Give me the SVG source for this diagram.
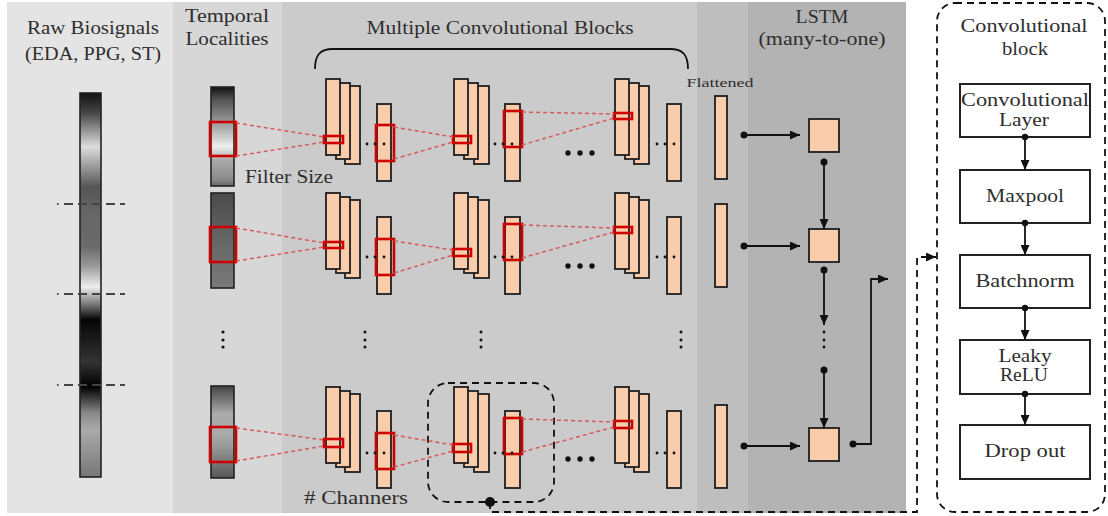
<svg xmlns="http://www.w3.org/2000/svg" width="1108" height="516" viewBox="0 0 1108 516">
<defs>
<style>
.t{font-family:"Liberation Serif","Times New Roman",serif;fill:#2e2e2e;text-anchor:middle}
.h{font-size:19px}
.b{font-size:18px}
.peach{fill:#f9cdab;stroke:#1e1e1e;stroke-width:1.8}
.red{fill:none;stroke:#cc0000;stroke-width:2.6}
.rd{fill:none;stroke:#d65a5a;stroke-width:1.5;stroke-dasharray:4 3}
.ln{fill:none;stroke:#111;stroke-width:1.8}
.box{fill:#fff;stroke:#222;stroke-width:2}
.dot{fill:#111}
.gbar{stroke:#222;stroke-width:1.6}
.dash{fill:none;stroke:#111;stroke-width:1.8;stroke-dasharray:7 5}
</style>
<marker id="ah" viewBox="0 0 10 9" markerWidth="10" markerHeight="9" refX="10" refY="4.5" orient="auto" markerUnits="userSpaceOnUse">
<path d="M0,0 L10,4.5 L0,9 z" fill="#111"/>
</marker>
<linearGradient id="gRaw" x1="0" y1="0" x2="0" y2="1">
<stop offset="0" stop-color="#111"/>
<stop offset="0.05" stop-color="#444"/>
<stop offset="0.14" stop-color="#ddd"/>
<stop offset="0.18" stop-color="#aaa"/>
<stop offset="0.245" stop-color="#555"/>
<stop offset="0.31" stop-color="#666"/>
<stop offset="0.40" stop-color="#6a6a6a"/>
<stop offset="0.45" stop-color="#999"/>
<stop offset="0.505" stop-color="#eee"/>
<stop offset="0.557" stop-color="#666"/>
<stop offset="0.59" stop-color="#050505"/>
<stop offset="0.66" stop-color="#222"/>
<stop offset="0.70" stop-color="#333"/>
<stop offset="0.765" stop-color="#000"/>
<stop offset="0.833" stop-color="#888"/>
<stop offset="0.878" stop-color="#aaa"/>
<stop offset="1" stop-color="#777"/>
</linearGradient>
<linearGradient id="gT1" x1="0" y1="0" x2="0" y2="1">
<stop offset="0" stop-color="#111"/>
<stop offset="0.13" stop-color="#555"/>
<stop offset="0.36" stop-color="#999"/>
<stop offset="0.6" stop-color="#eee"/>
<stop offset="0.74" stop-color="#aaa"/>
<stop offset="0.94" stop-color="#888"/>
<stop offset="1" stop-color="#666"/>
</linearGradient>
<linearGradient id="gT2" x1="0" y1="0" x2="0" y2="1">
<stop offset="0" stop-color="#4a4a4a"/>
<stop offset="0.5" stop-color="#666"/>
<stop offset="1" stop-color="#7a7a7a"/>
</linearGradient>
<linearGradient id="gT3" x1="0" y1="0" x2="0" y2="1">
<stop offset="0" stop-color="#444"/>
<stop offset="0.3" stop-color="#aaa"/>
<stop offset="0.51" stop-color="#aaa"/>
<stop offset="0.66" stop-color="#999"/>
<stop offset="0.84" stop-color="#777"/>
<stop offset="1" stop-color="#555"/>
</linearGradient>
</defs>

<g id="background">
<rect x="7" y="2" width="166" height="511" fill="#e4e4e4"/>
<rect x="173" y="2" width="109" height="511" fill="#d7d7d7"/>
<rect x="282" y="2" width="415" height="511" fill="#cbcbcb"/>
<rect x="697" y="2" width="51" height="511" fill="#bebebe"/>
<rect x="748" y="2" width="158" height="511" fill="#b3b3b3"/>
</g>

<g id="labels">
<text class="t h" x="93" y="34" textLength="132" lengthAdjust="spacingAndGlyphs">Raw Biosignals</text>
<text class="t h" x="93" y="60" textLength="136" lengthAdjust="spacingAndGlyphs">(EDA, PPG, ST)</text>
<text class="t h" x="227" y="22" textLength="84" lengthAdjust="spacingAndGlyphs">Temporal</text>
<text class="t h" x="227" y="45" textLength="83" lengthAdjust="spacingAndGlyphs">Localities</text>
<text class="t h" x="500" y="34" textLength="267" lengthAdjust="spacingAndGlyphs">Multiple Convolutional Blocks</text>
<text class="t h" x="822" y="23" textLength="53" lengthAdjust="spacingAndGlyphs">LSTM</text>
<text class="t h" x="822" y="45" textLength="127" lengthAdjust="spacingAndGlyphs">(many-to-one)</text>
<text class="t" x="720" y="87" font-size="13" textLength="67" lengthAdjust="spacingAndGlyphs">Flattened</text>
<text class="t" x="289" y="183" font-size="18" textLength="88" lengthAdjust="spacingAndGlyphs">Filter Size</text>
<text class="t" x="356" y="504" font-size="18" textLength="104" lengthAdjust="spacingAndGlyphs"># Channers</text>
<path class="ln" d="M315,69 C315,55 320,49 333,49 L670,49 C683,49 688,55 688,69" stroke-width="2.4"/>
</g>

<g id="raw-biosignals">
<rect class="gbar" x="80" y="93" width="21" height="384" fill="url(#gRaw)"/>
<g stroke="#444" stroke-width="2" stroke-dasharray="1.5 5.5 9 5 9 5 9 5 9 5 9">
<line x1="57" y1="204" x2="125" y2="204"/>
<line x1="57" y1="294" x2="125" y2="294"/>
<line x1="57" y1="385" x2="125" y2="385"/>
</g>
</g>

<g id="temporal-localities">
<rect class="gbar" x="211" y="87" width="23" height="99" fill="url(#gT1)"/>
<rect class="gbar" x="211" y="193" width="23" height="95" fill="url(#gT2)"/>
<rect class="gbar" x="211" y="386" width="23" height="92" fill="url(#gT3)"/>
<rect class="red" x="210" y="122" width="26" height="34" stroke-width="3"/>
<rect class="red" x="210" y="227" width="26" height="35" stroke-width="3"/>
<rect class="red" x="210" y="427" width="26" height="35" stroke-width="3"/>
<circle class="dot" cx="223" cy="332" r="1.6"/>
<circle class="dot" cx="223" cy="340" r="1.6"/>
<circle class="dot" cx="223" cy="347" r="1.6"/>
</g>

<g id="conv-row-1">
<rect class="peach" x="345" y="86" width="15" height="78"/>
<rect class="peach" x="336" y="83" width="14" height="76"/>
<rect class="peach" x="326" y="79" width="14" height="76"/>
<rect class="peach" x="377" y="104" width="14" height="77"/>
<rect class="peach" x="474" y="86" width="15" height="78"/>
<rect class="peach" x="464" y="83" width="14" height="76"/>
<rect class="peach" x="454" y="79" width="14" height="76"/>
<rect class="peach" x="505" y="104" width="15" height="77"/>
<rect class="peach" x="634" y="86" width="15" height="78"/>
<rect class="peach" x="625" y="83" width="14" height="76"/>
<rect class="peach" x="615" y="79" width="14" height="76"/>
<rect class="peach" x="667" y="104" width="14" height="77"/>
<rect class="red" x="324" y="136" width="19" height="7"/>
<rect class="red" x="376" y="125" width="18" height="36"/>
<rect class="red" x="453" y="136" width="18" height="7"/>
<rect class="red" x="504" y="111" width="18" height="36"/>
<rect class="red" x="614" y="113" width="18" height="6"/>
<g class="dot"><circle cx="367" cy="144" r="1.4"/><circle cx="375" cy="144" r="1.4"/><circle cx="384" cy="144" r="1.4"/>
<circle cx="495" cy="144" r="1.4"/><circle cx="503" cy="144" r="1.4"/><circle cx="512" cy="144" r="1.4"/>
<circle cx="657" cy="144" r="1.4"/><circle cx="665" cy="144" r="1.4"/><circle cx="674" cy="144" r="1.4"/>
<circle cx="568" cy="153" r="2.7"/><circle cx="580" cy="153" r="2.7"/><circle cx="592" cy="153" r="2.7"/></g>
</g>

<g id="conv-row-2">
<rect class="peach" x="345" y="200" width="15" height="78"/>
<rect class="peach" x="336" y="197" width="14" height="76"/>
<rect class="peach" x="326" y="193" width="14" height="76"/>
<rect class="peach" x="377" y="217" width="14" height="77"/>
<rect class="peach" x="474" y="200" width="15" height="78"/>
<rect class="peach" x="464" y="197" width="14" height="76"/>
<rect class="peach" x="454" y="193" width="14" height="76"/>
<rect class="peach" x="505" y="217" width="15" height="77"/>
<rect class="peach" x="634" y="200" width="15" height="78"/>
<rect class="peach" x="625" y="197" width="14" height="76"/>
<rect class="peach" x="615" y="193" width="14" height="76"/>
<rect class="peach" x="667" y="217" width="14" height="77"/>
<rect class="red" x="324" y="242" width="19" height="6"/>
<rect class="red" x="376" y="239" width="18" height="36"/>
<rect class="red" x="453" y="249" width="18" height="7"/>
<rect class="red" x="504" y="224" width="18" height="36"/>
<rect class="red" x="614" y="227" width="18" height="6"/>
<g class="dot"><circle cx="367" cy="257" r="1.4"/><circle cx="375" cy="257" r="1.4"/><circle cx="384" cy="257" r="1.4"/>
<circle cx="495" cy="257" r="1.4"/><circle cx="503" cy="257" r="1.4"/><circle cx="512" cy="257" r="1.4"/>
<circle cx="657" cy="257" r="1.4"/><circle cx="665" cy="257" r="1.4"/><circle cx="674" cy="257" r="1.4"/>
<circle cx="568" cy="266" r="2.7"/><circle cx="580" cy="266" r="2.7"/><circle cx="592" cy="266" r="2.7"/></g>
</g>

<g id="row-ellipsis">
<g class="dot">
<circle cx="365" cy="332" r="1.5"/><circle cx="365" cy="340" r="1.5"/><circle cx="365" cy="347" r="1.5"/>
<circle cx="481" cy="332" r="1.5"/><circle cx="481" cy="340" r="1.5"/><circle cx="481" cy="347" r="1.5"/>
<circle cx="681" cy="332" r="1.5"/><circle cx="681" cy="340" r="1.5"/><circle cx="681" cy="347" r="1.5"/>
</g>
</g>

<g id="conv-row-3">
<rect class="peach" x="345" y="394" width="15" height="78"/>
<rect class="peach" x="336" y="391" width="14" height="76"/>
<rect class="peach" x="326" y="387" width="14" height="76"/>
<rect class="peach" x="377" y="411" width="14" height="77"/>
<rect class="peach" x="474" y="394" width="15" height="78"/>
<rect class="peach" x="464" y="391" width="14" height="76"/>
<rect class="peach" x="454" y="387" width="14" height="76"/>
<rect class="peach" x="505" y="411" width="15" height="77"/>
<rect class="peach" x="634" y="394" width="15" height="78"/>
<rect class="peach" x="625" y="391" width="14" height="76"/>
<rect class="peach" x="615" y="387" width="14" height="76"/>
<rect class="peach" x="667" y="411" width="14" height="77"/>
<rect class="red" x="324" y="439" width="19" height="8"/>
<rect class="red" x="376" y="433" width="18" height="36"/>
<rect class="red" x="453" y="444" width="18" height="8"/>
<rect class="red" x="504" y="418" width="18" height="36"/>
<rect class="red" x="614" y="421" width="18" height="7"/>
<g class="dot"><circle cx="367" cy="453" r="1.4"/><circle cx="375" cy="453" r="1.4"/><circle cx="384" cy="453" r="1.4"/>
<circle cx="495" cy="453" r="1.4"/><circle cx="503" cy="453" r="1.4"/><circle cx="512" cy="453" r="1.4"/>
<circle cx="657" cy="453" r="1.4"/><circle cx="665" cy="453" r="1.4"/><circle cx="674" cy="453" r="1.4"/>
<circle cx="568" cy="459" r="2.7"/><circle cx="580" cy="459" r="2.7"/><circle cx="592" cy="459" r="2.7"/></g>
<rect class="dash" x="428" y="383" width="126" height="119" rx="20" stroke-width="1.6"/>
</g>

<g id="flattened">
<rect class="peach" x="715" y="96" width="12" height="83"/>
<rect class="peach" x="715" y="204" width="12" height="83"/>
<rect class="peach" x="715" y="405" width="12" height="83"/>
</g>

<g id="lstm">
<rect class="peach" x="809" y="119" width="30" height="33"/>
<rect class="peach" x="809" y="229" width="30" height="33"/>
<rect class="peach" x="809" y="428" width="30" height="33"/>
<g class="dot"><circle cx="824" cy="332" r="1.4"/><circle cx="824" cy="340" r="1.4"/><circle cx="824" cy="347" r="1.4"/></g>
</g>

<g id="conv-block-panel">
<rect class="dash" x="937" y="3" width="168" height="509" rx="18"/>
<text class="t h" x="1024" y="32" textLength="127" lengthAdjust="spacingAndGlyphs">Convolutional</text>
<text class="t h" x="1025" y="55" textLength="46" lengthAdjust="spacingAndGlyphs">block</text>
<g id="box-conv-layer"><rect class="box" x="960" y="84" width="130" height="53"/>
<text class="t b" x="1025" y="106" textLength="128" lengthAdjust="spacingAndGlyphs">Convolutional</text>
<text class="t b" x="1024" y="126" textLength="50" lengthAdjust="spacingAndGlyphs">Layer</text></g>
<g id="box-maxpool"><rect class="box" x="960" y="170" width="130" height="53"/>
<text class="t b" x="1025" y="202" textLength="78" lengthAdjust="spacingAndGlyphs">Maxpool</text></g>
<g id="box-batchnorm"><rect class="box" x="960" y="255" width="130" height="53"/>
<text class="t b" x="1025" y="287" textLength="99" lengthAdjust="spacingAndGlyphs">Batchnorm</text></g>
<g id="box-leaky-relu"><rect class="box" x="960" y="340" width="130" height="54"/>
<text class="t b" x="1025" y="362" textLength="53" lengthAdjust="spacingAndGlyphs">Leaky</text>
<text class="t b" x="1024" y="381" textLength="48" lengthAdjust="spacingAndGlyphs">ReLU</text></g>
<g id="box-dropout"><rect class="box" x="960" y="425" width="130" height="54"/>
<text class="t b" x="1025" y="457" textLength="81" lengthAdjust="spacingAndGlyphs">Drop out</text></g>
</g>

<g id="connectors">
<g class="rd">
<line x1="236" y1="123" x2="324" y2="137"/><line x1="236" y1="156" x2="324" y2="142"/>
<line x1="394" y1="127" x2="453" y2="137"/><line x1="394" y1="159" x2="453" y2="142"/>
<line x1="522" y1="112" x2="614" y2="114"/><line x1="522" y1="145" x2="614" y2="118"/>
<line x1="236" y1="228" x2="324" y2="243"/><line x1="236" y1="261" x2="324" y2="247"/>
<line x1="394" y1="241" x2="453" y2="250"/><line x1="394" y1="273" x2="453" y2="255"/>
<line x1="522" y1="225" x2="614" y2="228"/><line x1="522" y1="258" x2="614" y2="232"/>
<line x1="236" y1="428" x2="324" y2="440"/><line x1="236" y1="461" x2="324" y2="446"/>
<line x1="394" y1="435" x2="453" y2="445"/><line x1="394" y1="467" x2="453" y2="451"/>
<line x1="522" y1="419" x2="614" y2="422"/><line x1="522" y1="452" x2="614" y2="427"/>
</g>
<g class="ln" marker-end="url(#ah)">
<line x1="744" y1="135" x2="800" y2="135"/>
<line x1="744" y1="246" x2="800" y2="246"/>
<line x1="744" y1="446" x2="800" y2="446"/>
<line x1="824" y1="162" x2="824" y2="229"/>
<line x1="824" y1="270" x2="824" y2="325"/>
<line x1="824" y1="370" x2="824" y2="428"/>
<path d="M853,444 L871,444 L871,279 L888,279"/>
<line x1="1025" y1="137" x2="1025" y2="170"/>
<line x1="1025" y1="223" x2="1025" y2="255"/>
<line x1="1025" y1="308" x2="1025" y2="340"/>
<line x1="1025" y1="394" x2="1025" y2="425"/>
</g>
<g class="dot">
<circle cx="744" cy="135" r="3.5"/><circle cx="744" cy="246" r="3.5"/><circle cx="744" cy="446" r="3.5"/>
<circle cx="824" cy="162" r="3.5"/><circle cx="824" cy="270" r="3.5"/><circle cx="824" cy="370" r="3.5"/>
<circle cx="853" cy="444" r="3.5"/>
<circle cx="1025" cy="137" r="3.2"/><circle cx="1025" cy="223" r="3.2"/><circle cx="1025" cy="308" r="3.2"/><circle cx="1025" cy="394" r="3.2"/>
</g>
<path class="dash" d="M490,502 L490,512 L917,512 L917,257 L936,257" marker-end="url(#ah)" stroke-width="1.6"/>
<circle class="dot" cx="490" cy="502" r="5"/>
</g>
</svg>
